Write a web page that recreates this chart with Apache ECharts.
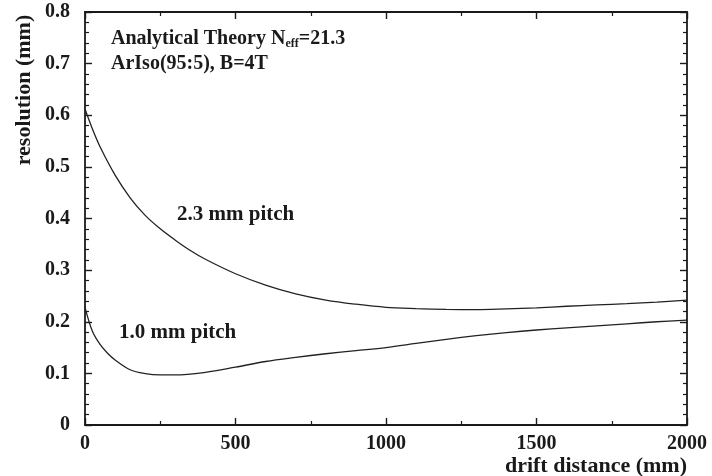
<!DOCTYPE html>
<html>
<head>
<meta charset="utf-8">
<script src="https://cdn.jsdelivr.net/npm/echarts@6/dist/echarts.min.js"></script>
<style>html,body{margin:0;padding:0;background:#fff}#c{width:712px;height:476px}</style>
</head>
<body>
<div id="c"></div>
<script>
// drift distance (mm) and resolution (mm)
const pitch23X = [0, 25, 50, 100, 150, 200, 250, 300, 350, 400, 500, 600, 700, 800, 900, 1000, 1100, 1200, 1300, 1400, 1500, 1600, 1700, 1800, 1900, 2000];
const pitch23Y = [0.612, 0.573, 0.539, 0.484, 0.440, 0.406, 0.380, 0.358, 0.338, 0.321, 0.293, 0.271, 0.254, 0.242, 0.234, 0.228, 0.2255, 0.224, 0.2235, 0.225, 0.227, 0.230, 0.2325, 0.235, 0.238, 0.242];
const pitch10X = [0, 25, 50, 75, 100, 150, 200, 250, 300, 400, 500, 600, 700, 800, 900, 1000, 1100, 1200, 1300, 1400, 1500, 1600, 1700, 1800, 1900, 2000];
const pitch10Y = [0.228, 0.181, 0.156, 0.139, 0.126, 0.107, 0.0995, 0.097, 0.097, 0.102, 0.112, 0.123, 0.131, 0.138, 0.144, 0.150, 0.158, 0.166, 0.173, 0.179, 0.184, 0.188, 0.192, 0.196, 0.200, 0.203];
const xTicks = [0, 500, 1000, 1500, 2000];
const yTicks = [0, 0.1, 0.2, 0.3, 0.4, 0.5, 0.6, 0.7, 0.8];
const seriesNames = ['2.3 mm pitch', '1.0 mm pitch'];

const FONT = '"Liberation Serif", "DejaVu Serif", serif';
const INK = '#1a1a1a';
const chart = echarts.init(document.getElementById('c'), null, {renderer: 'canvas'});
const zip = (xs, ys) => xs.map((x, i) => [x, ys[i]]);

const baseAxis = {
  axisLine: {show: true, onZero: false, lineStyle: {color: INK, width: 1.8}},
  axisTick: {show: true, inside: true, length: 7, lineStyle: {color: INK, width: 1.4}},
  minorTick: {show: true, length: 4, lineStyle: {color: INK, width: 1.2}},
  splitLine: {show: false},
  axisLabel: {color: INK, fontFamily: FONT, fontWeight: 'bold', fontSize: 20}
};
const xCommon = Object.assign({}, baseAxis, {
  type: 'value', min: xTicks[0], max: xTicks[xTicks.length - 1], interval: 500,
  minorTick: Object.assign({}, baseAxis.minorTick, {splitNumber: 2})
});
const yCommon = Object.assign({}, baseAxis, {
  type: 'value', min: yTicks[0], max: yTicks[yTicks.length - 1], interval: 0.1,
  minorTick: Object.assign({}, baseAxis.minorTick, {splitNumber: 5})
});

chart.setOption({
  backgroundColor: '#fff',
  animation: false,
  grid: {left: 85, right: 25, top: 12, bottom: 51, containLabel: false},
  xAxis: [
    Object.assign({}, xCommon, {position: 'bottom',
      axisLabel: Object.assign({}, baseAxis.axisLabel, {margin: 9, formatter: v => String(v)})}),
    Object.assign({}, xCommon, {position: 'top', axisLabel: {show: false}})
  ],
  yAxis: [
    Object.assign({}, yCommon, {position: 'left',
      axisLabel: Object.assign({}, baseAxis.axisLabel, {margin: 15,
        formatter: v => (v === 0 ? '0' : v.toFixed(1))})}),
    Object.assign({}, yCommon, {position: 'right', axisLabel: {show: false}})
  ],
  series: [
    {name: seriesNames[0], type: 'line', smooth: 0.35, showSymbol: false,
     lineStyle: {color: '#222', width: 1.3}, data: zip(pitch23X, pitch23Y)},
    {name: seriesNames[1], type: 'line', smooth: 0.35, showSymbol: false,
     lineStyle: {color: '#222', width: 1.3}, data: zip(pitch10X, pitch10Y)}
  ],
  graphic: [
    {type: 'text', left: 111, top: 29, silent: true,
     style: {text: '{n|Analytical Theory N}{s|eff}{n|=21.3}', rich: {
       n: {fontFamily: FONT, fontWeight: 'bold', fontSize: 20, fill: INK},
       s: {fontFamily: FONT, fontWeight: 'bold', fontSize: 12, fill: INK, verticalAlign: 'bottom', padding: [9, 0, 0, 0]}
     }}},
    {type: 'text', left: 111, top: 54, silent: true,
     style: {text: 'ArIso(95:5), B=4T', fontFamily: FONT, fontWeight: 'bold', fontSize: 20, fill: INK}},
    {type: 'text', left: 177, top: 204, silent: true,
     style: {text: seriesNames[0], fontFamily: FONT, fontWeight: 'bold', fontSize: 21, fill: INK}},
    {type: 'text', left: 119, top: 322, silent: true,
     style: {text: seriesNames[1], fontFamily: FONT, fontWeight: 'bold', fontSize: 21, fill: INK}},
    {type: 'text', x: 24, y: 90, rotation: Math.PI / 2, silent: true,
     style: {text: 'resolution (mm)', fontFamily: FONT, fontWeight: 'bold', fontSize: 22, fill: INK,
       align: 'center', verticalAlign: 'middle'}},
    {type: 'text', right: 25, top: 455, silent: true,
     style: {text: 'drift distance (mm)', fontFamily: FONT, fontWeight: 'bold', fontSize: 22, fill: INK}}
  ]
});
</script>
</body>
</html>
